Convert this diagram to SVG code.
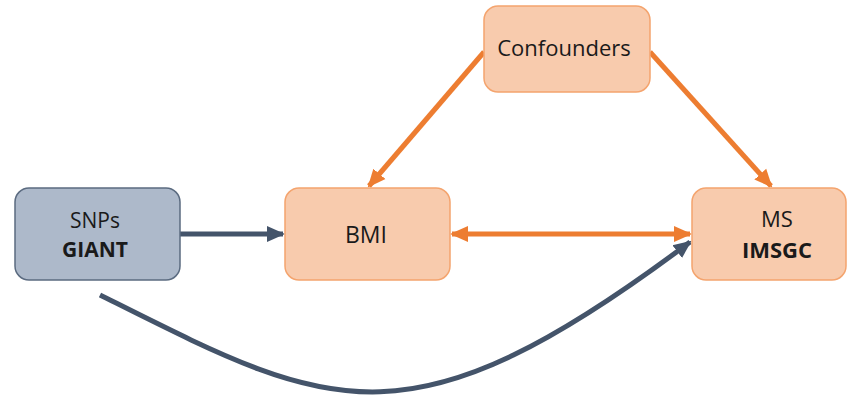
<svg xmlns="http://www.w3.org/2000/svg" width="848" height="397" viewBox="0 0 848 397">
<style>
.node-o{fill:#F8CBAD;stroke:#F4A46E;stroke-width:1.5}
.node-b{fill:#ADB9CA;stroke:#5B6B80;stroke-width:1.5}
.t{font-family:"Open Sans","Liberation Sans",sans-serif;font-size:21px;fill:#1a1a1a;text-anchor:middle}
.b{font-weight:bold}
.ob{stroke:#ED7D31;stroke-width:5;fill:none}
.bl{stroke:#44546A;stroke-width:5;fill:none}
</style>
<defs>
<marker id="ao" markerUnits="userSpaceOnUse" markerWidth="18" markerHeight="18" refX="16" refY="8" orient="auto-start-reverse" viewBox="0 0 18 16"><path d="M0,0 L18,8 L0,16 z" fill="#ED7D31"/></marker>
<marker id="ab" markerUnits="userSpaceOnUse" markerWidth="18" markerHeight="18" refX="16" refY="8" orient="auto" viewBox="0 0 18 16"><path d="M0,0 L18,8 L0,16 z" fill="#44546A"/></marker>
</defs>
<g id="connectors">
<line class="bl" x1="180" y1="234" x2="283" y2="234" marker-end="url(#ab)"/>
<line class="ob" x1="452" y1="234" x2="690" y2="234" marker-start="url(#ao)" marker-end="url(#ao)"/>
<line class="ob" x1="484" y1="52" x2="369" y2="186" marker-end="url(#ao)"/>
<line class="ob" x1="650" y1="52" x2="771" y2="186" marker-end="url(#ao)"/>
<path class="bl" d="M100 295 C 330 410, 405 456, 690 242" marker-end="url(#ab)"/>
</g>
<g id="snps"><rect class="node-b" x="15" y="188" width="165" height="92" rx="14"/><text class="t" x="95" y="228">SNPs</text><text class="t b" x="95" y="257">GIANT</text></g>
<g id="bmi"><rect class="node-o" x="285" y="188" width="165" height="92" rx="14"/><text class="t" x="366" y="243" style="font-size:23px">BMI</text></g>
<g id="ms"><rect class="node-o" x="692" y="188" width="154" height="92" rx="14"/><text class="t" x="777" y="227" style="font-size:22px">MS</text><text class="t b" x="777" y="258" style="font-size:22px">IMSGC</text></g>
<g id="confounders"><rect class="node-o" x="484" y="6" width="166" height="86" rx="14"/><text class="t" x="564" y="56" style="font-size:22px">Confounders</text></g>
</svg>
